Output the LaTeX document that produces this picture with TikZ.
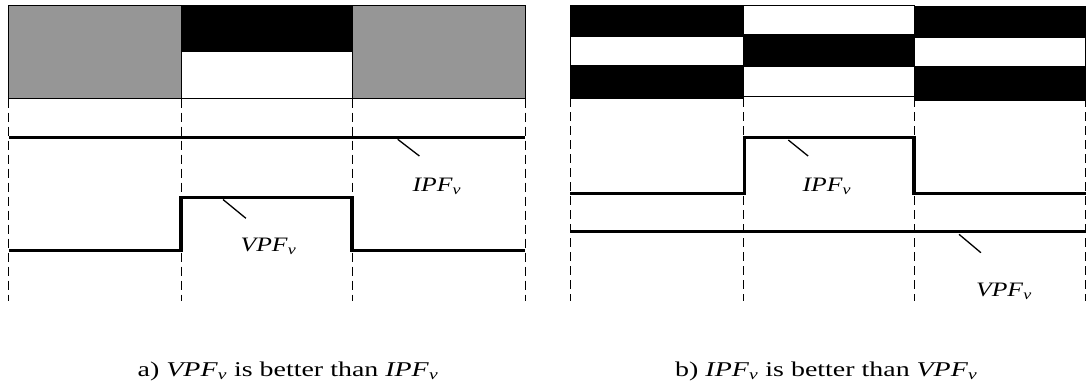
\documentclass[tikz,border=0pt]{standalone}
\usepackage{graphicx}
\usepackage{fontspec}
\setmainfont{Liberation Serif}
\newcommand{\myPF}[1]{\textit{#1}\textsubscript{\textit{v}}}
\newcommand{\wideLbl}[1]{\scalebox{1.25}[1]{#1}}
\newcommand{\wideCap}[1]{\scalebox{1.33}[1]{#1}}
\tikzset{
  guide/.style={draw=black, line width=0.9pt, dash pattern=on 9pt off 5pt},
  signal/.style={draw=black, line width=3.2pt},
  leader/.style={draw=black, line width=1.3pt},
  cell/.style={draw=black, line width=1pt},
  lbl/.style={font=\fontsize{20.5}{23}\selectfont, inner sep=0pt, anchor=base},
  captiontext/.style={font=\fontsize{21}{24}\selectfont, inner sep=0pt, anchor=base west},
}
\begin{document}
\begin{tikzpicture}[x=1pt,y=-1pt]
\useasboundingbox (0,0) rectangle (1088,388);
\fill[white] (0,0) rectangle (1088,388);
% ---------- panel a: top cells
\definecolor{cellgray}{RGB}{150,150,150}
\filldraw[cell, fill=cellgray] (8.6,5) rectangle (181,98.5);
\filldraw[cell, fill=black] (181,5) rectangle (352,51.7);
\filldraw[cell, fill=white] (181,51.7) rectangle (352,98.5);
\filldraw[cell, fill=cellgray] (352,5) rectangle (525,98.5);
% guides a
\foreach \x/\n in {8.6/ga1,181/ga2,352/ga3,525/ga4}{
  \coordinate (\n t) at (\x,98.5);
  \coordinate (\n b) at (\x,301);
  \draw[guide] (\n t) -- (\n b);
}
% signals a
\coordinate (aI1) at (8.6,137.3); \coordinate (aI2) at (525,137.3);
\draw[signal] (aI1) -- (aI2);
\coordinate (aV1) at (8.6,250.7); \coordinate (aV2) at (181,250.7);
\coordinate (aV3) at (181,197.7); \coordinate (aV4) at (352,197.7);
\coordinate (aV5) at (352,250.7); \coordinate (aV6) at (525,250.7);
\draw[signal, line join=miter] (aV1) -- (aV2) -- (aV3) -- (aV4) -- (aV5) -- (aV6);
% labels a
\coordinate (aIL1) at (397.7,139.3); \coordinate (aIL2) at (419.4,156);
\draw[leader] (aIL1) -- (aIL2);
\node[lbl] (aIlab) at (437,191.7) {\wideLbl{\myPF{IPF}}};
\coordinate (aVL1) at (223,199.5); \coordinate (aVL2) at (245.9,218.3);
\draw[leader] (aVL1) -- (aVL2);
\node[lbl] (aVlab) at (268.5,251.7) {\wideLbl{\myPF{VPF}}};
% ---------- panel b: top cells
\filldraw[cell, fill=black] (570,5) rectangle (743,36);
\filldraw[cell, fill=white] (570,36) rectangle (743,65.7);
\filldraw[cell, fill=black] (570,65.7) rectangle (743,98.3);
\filldraw[cell, fill=white] (743,5) rectangle (914.5,34);
\filldraw[cell, fill=black] (743,34) rectangle (914.5,66);
\filldraw[cell, fill=white] (743,66) rectangle (914.5,96.7);
\filldraw[cell, fill=black] (914.5,6) rectangle (1085.5,37.7);
\filldraw[cell, fill=white] (914.5,37.7) rectangle (1085.5,66.7);
\filldraw[cell, fill=black] (914.5,66.7) rectangle (1085.5,100);
% guides b
\foreach \x/\n in {570/gb1,743/gb2,914.5/gb3,1085.5/gb4}{
  \coordinate (\n t) at (\x,98.3);
  \coordinate (\n b) at (\x,301);
  \draw[guide] (\n t) -- (\n b);
}
% signals b
\coordinate (bI1) at (570,193.3); \coordinate (bI2) at (744.5,193.3);
\coordinate (bI3) at (744.5,137.3); \coordinate (bI4) at (914,137.3);
\coordinate (bI5) at (914,193.3); \coordinate (bI6) at (1085.5,193.3);
\draw[signal, line join=miter] (bI1) -- (bI2) -- (bI3) -- (bI4) -- (bI5) -- (bI6);
\coordinate (bV1) at (570,231.7); \coordinate (bV2) at (1085.5,231.7);
\draw[signal] (bV1) -- (bV2);
% labels b
\coordinate (bIL1) at (788.3,140); \coordinate (bIL2) at (808.1,156);
\draw[leader] (bIL1) -- (bIL2);
\node[lbl] (bIlab) at (827,191) {\wideLbl{\myPF{IPF}}};
\coordinate (bVL1) at (959,234.3); \coordinate (bVL2) at (980.9,252.7);
\draw[leader] (bVL1) -- (bVL2);
\node[lbl] (bVlab) at (1004,296) {\wideLbl{\myPF{VPF}}};
% captions
\node[captiontext] (capa) at (137.5,376.7) {\wideCap{a) \myPF{VPF} is better than \myPF{IPF}}};
\node[captiontext] (capb) at (675,376.7) {\wideCap{b) \myPF{IPF} is better than \myPF{VPF}}};
\end{tikzpicture}
\end{document}
